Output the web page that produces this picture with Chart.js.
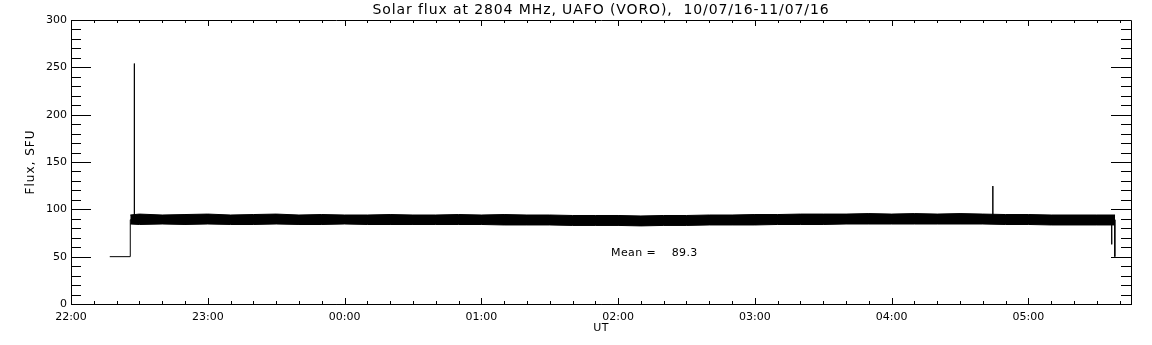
<!DOCTYPE html>
<html>
<head>
<meta charset="utf-8">
<script src="https://cdn.jsdelivr.net/npm/chart.js@4.4.1/dist/chart.umd.min.js"></script>
<style>
  html, body { margin: 0; padding: 0; background: #fff; }
  #wrap { width: 1152px; height: 345px; }
</style>
</head>
<body>
<div id="wrap"><canvas id="fluxChart"></canvas></div>
<script>
// all times are minutes after 22:00 UT
const xTickLabels = ['22:00', '23:00', '00:00', '01:00', '02:00', '03:00', '04:00', '05:00'];
const yTickValues = [0, 50, 100, 150, 200, 250, 300];

// single trace: calibration level, start step, spikes and the end drop
const traceTime = [17, 26, 26, 27.8, 27.8, 27.8, 404.4, 404.4, 404.4, 456.5, 456.5, 456.6, 457.9, 457.9];
const traceFlux = [50, 50, 89, 89, 254, 89, 89, 124.6, 89, 89, 63, 89, 89, 50];

// noise band of the 1 s record, read as upper / lower envelope
const bandTime = [26, 30, 40, 50, 60, 70, 80, 90, 100, 110, 120, 130, 140, 150, 160, 170, 180,
  190, 200, 210, 220, 230, 240, 250, 260, 270, 280, 290, 300, 310, 320, 330, 340, 350, 360,
  370, 380, 390, 400, 410, 420, 430, 440, 450, 458];
const bandUpper = [94, 95, 94, 94.5, 95, 94, 94.5, 95, 94, 94.5, 94, 94, 94.5, 94, 94, 94.5, 94,
  94.5, 94, 94, 93.5, 93.5, 93.5, 93, 93.5, 93.5, 94, 94, 94.5, 94.5, 95, 95, 95, 95.5, 95,
  95.5, 95, 95.5, 95, 94.5, 94.5, 94, 94, 94, 94];
const bandLower = [84.5, 84, 84.5, 84, 84.5, 84, 84, 84.5, 84, 84, 84.5, 84, 84, 84, 84, 84, 84,
  83.5, 83.5, 83.5, 83, 83, 83, 82.5, 83, 83, 83.5, 83.5, 83.5, 84, 84, 84, 84.5, 84.5, 84.5,
  84.5, 84.5, 84.5, 84.5, 84, 84, 83.5, 83.5, 83.5, 83.5];

const meanFlux = 89.3;

const toPoints = (xs, ys) => xs.map((x, i) => ({ x: x, y: ys[i] }));

const tickFont = { family: 'DejaVu Sans', size: 11 };

// IDL style box with inward tick marks on all four sides, plus the texts
const idlFrame = {
  id: 'idlFrame',
  afterDraw(chart) {
    const ctx = chart.ctx;
    const a = chart.chartArea;
    const xs = chart.scales.x;
    const ys = chart.scales.y;
    ctx.save();
    ctx.strokeStyle = '#000';
    ctx.lineWidth = 1;
    ctx.beginPath();
    ctx.rect(Math.round(a.left) + 0.5, Math.round(a.top) + 0.5,
      Math.round(a.right - a.left), Math.round(a.bottom - a.top));
    for (let m = 0; m <= 460; m += 10) {
      const px = Math.round(xs.getPixelForValue(m)) + 0.5;
      const len = m % 60 === 0 ? 6 : 3;
      ctx.moveTo(px, a.bottom); ctx.lineTo(px, a.bottom - len);
      ctx.moveTo(px, a.top); ctx.lineTo(px, a.top + len);
    }
    for (let v = 0; v <= 300; v += 10) {
      const py = Math.round(ys.getPixelForValue(v)) + 0.5;
      const len = v % 50 === 0 ? 20 : 10;
      ctx.moveTo(a.left, py); ctx.lineTo(a.left + len, py);
      ctx.moveTo(a.right, py); ctx.lineTo(a.right - len, py);
    }
    ctx.stroke();

    ctx.fillStyle = '#000';
    ctx.textBaseline = 'middle';
    ctx.textAlign = 'center';
    ctx.font = '14px "DejaVu Sans"';
    ctx.letterSpacing = '0.9px';
    ctx.fillText('Solar flux at 2804 MHz, UAFO (VORO),  10/07/16-11/07/16', (a.left + a.right) / 2, 10);
    ctx.font = '11px "DejaVu Sans"';
    ctx.letterSpacing = '0.4px';
    ctx.fillText('UT', (a.left + a.right) / 2, 328);
    ctx.textAlign = 'left';
    ctx.fillText('Mean =    ' + meanFlux.toFixed(1), 611, 253);
    ctx.font = '12px "DejaVu Sans"';
    ctx.letterSpacing = '1px';
    ctx.translate(31, (a.top + a.bottom) / 2);
    ctx.rotate(-Math.PI / 2);
    ctx.textAlign = 'center';
    ctx.fillText('Flux, SFU', 0, 0);
    ctx.restore();
  }
};

new Chart(document.getElementById('fluxChart'), {
  type: 'line',
  data: {
    datasets: [
      {
        data: toPoints(bandTime, bandUpper),
        borderColor: '#000',
        borderWidth: 1,
        pointRadius: 0,
        fill: false
      },
      {
        data: toPoints(bandTime, bandLower),
        borderColor: '#000',
        borderWidth: 1,
        pointRadius: 0,
        backgroundColor: '#000',
        fill: '-1'
      },
      {
        data: toPoints(traceTime, traceFlux),
        borderColor: '#000',
        borderWidth: 1,
        pointRadius: 0,
        fill: false
      }
    ]
  },
  options: {
    responsive: true,
    maintainAspectRatio: false,
    animation: false,
    layout: { padding: { top: 20, right: 21, left: 0, bottom: 0 } },
    plugins: {
      legend: { display: false },
      tooltip: { enabled: false }
    },
    scales: {
      x: {
        type: 'linear',
        min: 0,
        max: 465,
        afterFit: (scale) => { scale.height = 41; },
        afterBuildTicks: (scale) => { scale.ticks = xTickLabels.map((_, i) => ({ value: i * 60 })); },
        ticks: {
          callback: (v) => xTickLabels[Math.round(v / 60)],
          autoSkip: false,
          maxRotation: 0,
          padding: 7,
          color: '#000',
          font: tickFont
        },
        grid: { display: false, drawTicks: false },
        border: { display: true, color: '#000', width: 1 }
      },
      y: {
        min: 0,
        max: 300,
        afterFit: (scale) => { scale.width = 71; },
        afterBuildTicks: (scale) => { scale.ticks = yTickValues.map(v => ({ value: v })); },
        ticks: {
          padding: 4,
          color: '#000',
          font: tickFont
        },
        grid: { display: false, drawTicks: false },
        border: { display: true, color: '#000', width: 1 }
      }
    }
  },
  plugins: [idlFrame]
});
</script>
</body>
</html>
